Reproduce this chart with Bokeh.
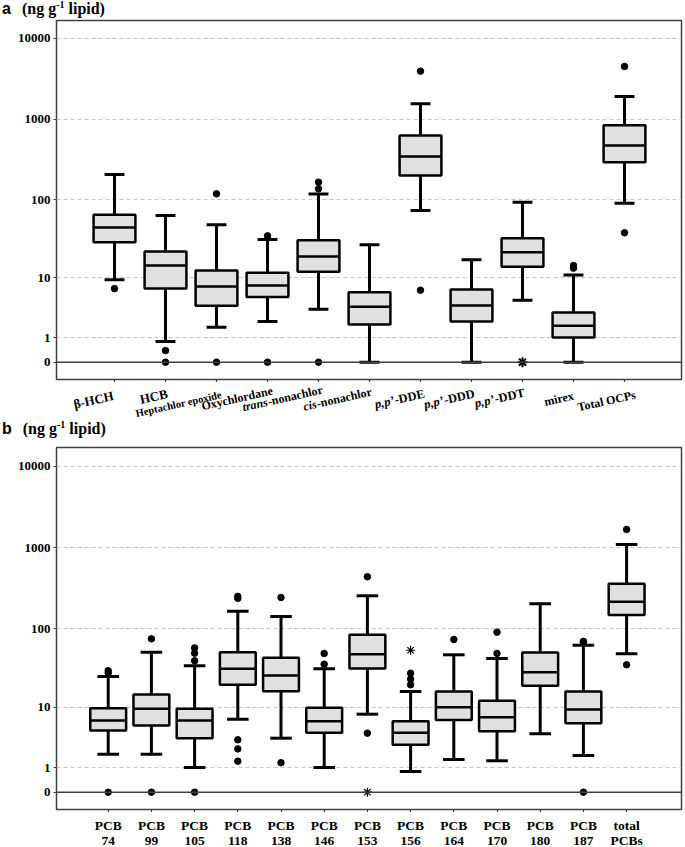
import numpy as np
from bokeh.plotting import figure
from bokeh.models import Range1d, FixedTicker, CustomJSTickFormatter, Span, ColumnDataSource, Div
from bokeh.layouts import column
from bokeh.core.properties import value
from bokeh.embed import file_html
from bokeh.resources import INLINE

# ---------------- data: panel a (OCPs, ng g-1 lipid) ----------------
ocp_names = ["β-HCH", "HCB", "Heptachlor epoxide", "Oxychlordane", "trans-nonachlor",
             "cis-nonachlor", "p,p’-DDE", "p,p’-DDD", "p,p’-DDT", "mirex", "Total OCPs"]
ocp_whisker_low = [9.4, 0.80, 1.70, 2.18, 3.5, 0, 73.6, 0, 4.8, 0, 90.8]
ocp_q1 = [29.3, 7.1, 3.97, 5.4, 12.1, 1.92, 201, 2.18, 14.1, 1.02, 294]
ocp_median = [45, 14.6, 7.6, 7.85, 19.2, 3.83, 346, 4.0, 21.8, 1.81, 473]
ocp_q3 = [65, 22.3, 12.6, 11.7, 31, 6.3, 629, 6.9, 33, 3.1, 843]
ocp_whisker_high = [207, 63.7, 48.7, 31.7, 118, 27.1, 1549, 17.4, 93.5, 10.9, 1905]
ocp_outliers = [[7.1], [0.39, 0], [119, 0], [35.3, 0], [166, 137, 0], [],
                [3915, 6.74], [], [], [13.5, 14.6], [4476, 38.6]]
ocp_extremes = [[], [], [], [], [], [], [], [], [0], [], []]

# ---------------- data: panel b (PCBs, ng g-1 lipid) ----------------
pcb_names = ["PCB 74", "PCB 99", "PCB 105", "PCB 118", "PCB 138", "PCB 146", "PCB 153",
             "PCB 156", "PCB 164", "PCB 170", "PCB 180", "PCB 187", "total PCBs"]
pcb_whisker_low = [1.93, 1.93, 1.01, 6.87, 3.6, 1.01, 8.06, 0.79, 1.52, 1.43, 4.2, 1.82, 48.9]
pcb_q1 = [4.7, 5.6, 3.6, 19.8, 16.3, 4.36, 32, 2.82, 6.7, 4.6, 19.2, 6.0, 148]
pcb_median = [6.6, 9.55, 6.6, 31.7, 26, 6.4, 48.3, 4.36, 10.0, 7.3, 28.7, 9.35, 216]
pcb_q3 = [9.7, 14.8, 9.55, 51.2, 43.6, 9.9, 84.4, 6.4, 16.2, 12.2, 50.8, 16.2, 360]
pcb_whisker_high = [25.3, 51.2, 34.6, 165, 142, 31.7, 256, 16.2, 47.5, 42.7, 204, 62.6, 1093]
pcb_outliers = [[28, 30, 0], [75.2, 0], [58, 49.8, 40, 0], [238, 252, 3.4, 2.4, 1.4],
                [244, 1.3], [49.4, 36.2], [439, 4.3], [27.8, 23.4, 19.8], [73.8],
                [91, 49.4], [], [67, 70, 0], [1672, 35.6]]
pcb_extremes = [[], [], [], [], [], [], [0], [54.2], [], [], [], [], []]

y_tick_values = [0, 1, 10, 100, 1000, 10000]
grid_values = [1, 10, 100, 1000, 10000]
unit_text = ["(ng g", "-1", "lipid)"]

SERIF = "Liberation Serif"
SANS = "Liberation Sans"
FRAME = "#404040"
W = 685
FRAME_L, FRAME_R = 56, 681   # shared frame edges (page px); column aligns frames


def T(v):
    return np.log10(np.asarray(v, dtype=float) + 1.0)


# Times-Bold advance widths (per 1000 em) for placing italic prefixes
TB = {"-": 333, "n": 556, "o": 500, "a": 500, "c": 444, "h": 556, "l": 278, "r": 444,
      "D": 722, "E": 667, "T": 667}


def tw(s, size):
    return sum(TB.get(ch, 500) for ch in s) / 1000.0 * size


def main_fig(n, xr, yr, height, mb_top, mb_bottom):
    p = figure(width=W, height=height, x_range=xr, y_range=Range1d(*yr),
               output_backend="svg", toolbar_location=None,
               min_border_left=FRAME_L, min_border_right=W - FRAME_R,
               min_border_top=mb_top, min_border_bottom=mb_bottom)
    p.background_fill_color = "white"
    p.border_fill_color = "white"
    p.outline_line_color = FRAME
    p.outline_line_width = 1.5
    p.xgrid.visible = False
    p.ygrid.ticker = FixedTicker(ticks=list(T(grid_values)))
    p.ygrid.grid_line_color = "#c4c4c4"
    p.ygrid.grid_line_dash = "4 3"
    p.ygrid.grid_line_width = 1
    ya = p.yaxis[0]
    ya.ticker = FixedTicker(ticks=list(T(y_tick_values)))
    ya.formatter = CustomJSTickFormatter(code="return String(Math.round(Math.pow(10, tick) - 1));")
    ya.axis_line_color = None
    ya.major_tick_out = 3
    ya.major_tick_in = 0
    ya.major_tick_line_color = FRAME
    ya.minor_tick_line_color = None
    ya.major_label_standoff = 3
    ya.major_label_text_font = SERIF
    ya.major_label_text_font_style = "bold"
    ya.major_label_text_font_size = "13px"
    ya.major_label_text_color = "black"
    xa = p.xaxis[0]
    # category ticks drawn as label-free minor ticks; labels are drawn in a strip below
    xa.ticker = FixedTicker(ticks=[], minor_ticks=list(range(n)))
    xa.axis_line_color = None
    xa.major_tick_line_color = None
    xa.minor_tick_out = 3
    xa.minor_tick_in = 0
    xa.minor_tick_line_color = FRAME
    xa.minor_tick_line_width = 1.2
    p.add_layout(Span(location=0, dimension="width", line_color=FRAME, line_width=1.5))
    return p


def strip_fig(xr, page_top, page_bottom):
    """Label strip sharing the category x scale; its y runs in page pixels."""
    p = figure(width=W, height=int(round(page_bottom - page_top)),
               x_range=xr, y_range=Range1d(page_bottom, page_top),
               output_backend="svg", toolbar_location=None,
               x_axis_location=None, y_axis_location=None,
               min_border_left=FRAME_L, min_border_right=W - FRAME_R,
               min_border_top=0, min_border_bottom=0)
    p.outline_line_color = None
    p.grid.visible = False
    p.background_fill_color = "white"
    p.border_fill_color = "white"
    return p


def draw_boxes(p, lo, q1, med, q3, hi, outl, extr, box_w, cap_w, star_size, star_lw):
    n = len(q1)
    x = np.arange(n, dtype=float)
    lo_t, q1_t, med_t, q3_t, hi_t = T(lo), T(q1), T(med), T(q3), T(hi)
    p.segment(x, q3_t, x, hi_t, line_color="black", line_width=3)
    p.segment(x, q1_t, x, lo_t, line_color="black", line_width=3)
    p.segment(x - cap_w / 2, hi_t, x + cap_w / 2, hi_t, line_color="black", line_width=3)
    p.segment(x - cap_w / 2, lo_t, x + cap_w / 2, lo_t, line_color="black", line_width=3)
    p.vbar(x=x, width=box_w, top=q3_t, bottom=q1_t, fill_color="#e0e0e0",
           line_color="black", line_width=2.5)
    p.segment(x - box_w / 2, med_t, x + box_w / 2, med_t, line_color="black", line_width=2.5)
    ox = [i for i, vals in enumerate(outl) for _ in vals]
    oy = [v for vals in outl for v in vals]
    p.scatter(ox, T(oy), marker="circle", size=6.5, fill_color="black", line_color="black")
    ex = [i for i, vals in enumerate(extr) for _ in vals]
    ey = [v for vals in extr for v in vals]
    p.scatter(ex, T(ey), marker="asterisk", size=star_size, line_color="black",
              line_width=star_lw)


def txt(p, xs, ys, texts, sizes, style="bold", font=SERIF, align="left", angle=0.0):
    src = ColumnDataSource(dict(x=list(xs), y=list(ys), t=list(texts),
                                s=[f"{s}px" for s in sizes]))
    p.text(x="x", y="y", text="t", source=src, text_font=value(font),
           text_font_size="s", text_font_style=style, text_color="black",
           text_align=align, text_baseline="alphabetic", angle=angle)


def title_div(letter, height, pad_top):
    html = (
        f'<div style="padding:{pad_top}px 0 0 2px;line-height:18px;white-space:nowrap;color:black;">'
        f'<span style="font-family:\'{SANS}\';font-weight:bold;font-size:16px;">{letter}</span>'
        f'<span style="font-family:\'{SERIF}\';font-weight:bold;font-size:16px;margin-left:11px;">'
        f'{unit_text[0]}<span style="font-size:10px;vertical-align:6px;line-height:0;">{unit_text[1]}</span>'
        f' {unit_text[2]}</span></div>'
    )
    return Div(text=html, width=W, height=height, margin=0)


# ---------------- panel a ----------------
A_X0, A_DX, A_Y0, A_DY = 114.0, 51.0, 361.7, 81.0
xr_a = Range1d((FRAME_L - A_X0) / A_DX, (FRAME_R - A_X0) / A_DX)
ta = title_div("a", 19, 0)
pa = main_fig(len(ocp_names), xr_a,
              ((A_Y0 - 379) / A_DY, (A_Y0 - 20) / A_DY),
              height=363, mb_top=1, mb_bottom=3)
draw_boxes(pa, ocp_whisker_low, ocp_q1, ocp_median, ocp_q3, ocp_whisker_high,
           ocp_outliers, ocp_extremes, box_w=0.82, cap_w=0.39, star_size=10, star_lw=2)

la = strip_fig(xr_a, 382, 418)
# right-end / baseline anchor of each rotated label, page pixels
ocp_label_pos = [(113, 395), (167, 393), (221, 394), (272, 390), (322, 389), (371, 391),
                 (424, 393), (474, 393), (524, 392), (573, 395), (635, 394)]
ocp_label_size = [13, 13, 10.5, 12, 12, 12, 12.5, 12.5, 12.5, 12, 12]
ANG = 0.22
nx, ny, nt, ns = [], [], [], []
ix, iy, it, isz = [], [], [], []
for name, (xp, yp), fs in zip(ocp_names, ocp_label_pos, ocp_label_size):
    prefix = None
    for pre in ("trans", "cis", "p,p’"):
        if name.startswith(pre + "-"):
            prefix = pre
    rest = name if prefix is None else name[len(prefix):]
    nx.append((xp - A_X0) / A_DX); ny.append(yp); nt.append(rest); ns.append(fs)
    if prefix is not None:
        w = tw(rest, fs) + 0.5
        ix.append((xp - w * np.cos(ANG) - A_X0) / A_DX)
        iy.append(yp + w * np.sin(ANG))
        it.append(prefix); isz.append(fs)
txt(la, nx, ny, nt, ns, align="right", angle=ANG)
txt(la, ix, iy, it, isz, style="bold italic", align="right", angle=ANG)

# ---------------- panel b ----------------
B_X0, B_DX, B_Y0, B_DY = 107.7, 43.2, 791.7, 81.5
xr_b = Range1d((FRAME_L - B_X0) / B_DX, (FRAME_R - B_X0) / B_DX)
tb = title_div("b", 26, 2)
pb = main_fig(len(pcb_names), xr_b,
              ((B_Y0 - 809) / B_DY, (B_Y0 - 447) / B_DY),
              height=368, mb_top=3, mb_bottom=3)
draw_boxes(pb, pcb_whisker_low, pcb_q1, pcb_median, pcb_q3, pcb_whisker_high,
           pcb_outliers, pcb_extremes, box_w=0.83, cap_w=0.5, star_size=9, star_lw=1.2)

lb = strip_fig(xr_b, 812, 847)
n_b = len(pcb_names)
line1 = [nm.split(" ")[0] for nm in pcb_names]
line2 = [nm.split(" ")[1] for nm in pcb_names]
txt(lb, range(n_b), [825] * n_b, line1, [13.5] * n_b, align="center")
txt(lb, range(n_b), [840] * n_b, line2, [13.5] * n_b, align="center")

layout = column(ta, pa, la, tb, pb, lb, spacing=0)
open("out.html", "w").write(file_html(layout, INLINE))
